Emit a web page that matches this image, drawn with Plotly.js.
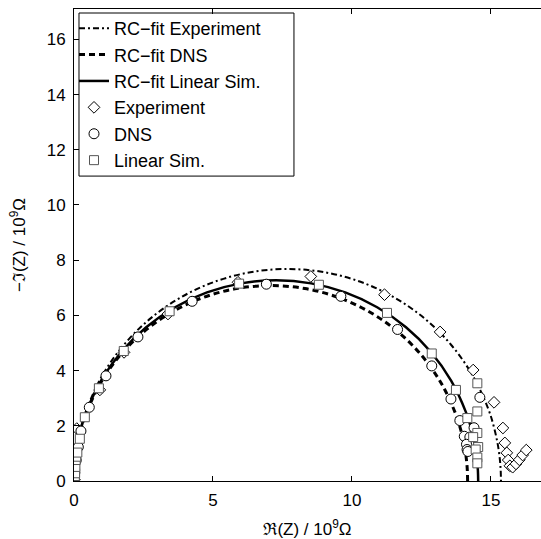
<!DOCTYPE html>
<html>
<head>
<meta charset="utf-8">
<script src="https://cdn.plot.ly/plotly-3.0.1.min.js"></script>
<style>html,body{margin:0;padding:0;background:#fff;}#plot{width:541px;height:539px;}</style>
</head>
<body>
<div id="plot"></div>
<script>
// RC-fit curves
const fitExpX = [0, 0.011, 0.042, 0.117, 0.262, 0.463, 1.029, 1.797, 2.743, 3.84, 5.053, 6.346, 7.68, 9.014, 10.307, 11.52, 12.617, 13.563, 14.331, 14.897, 15.098, 15.243, 15.318, 15.349, 15.36];
const fitExpY = [0, 0.402, 0.803, 1.334, 1.988, 2.627, 3.84, 4.937, 5.883, 6.651, 7.217, 7.563, 7.68, 7.563, 7.217, 6.651, 5.883, 4.937, 3.84, 2.627, 1.988, 1.334, 0.803, 0.402, 0];
const fitDnsX = [0, 0.0097, 0.0388, 0.1075, 0.2412, 0.427, 0.9485, 1.6564, 2.529, 3.54, 4.6585, 5.8506, 7.08, 8.3094, 9.5015, 10.62, 11.631, 12.5036, 13.2115, 13.733, 13.9188, 14.0525, 14.1212, 14.1503, 14.16];
const fitDnsY = [0, 0.371, 0.74, 1.229, 1.832, 2.422, 3.54, 4.551, 5.424, 6.132, 6.653, 6.973, 7.08, 6.973, 6.653, 6.132, 5.424, 4.551, 3.54, 2.422, 1.832, 1.229, 0.74, 0.371, 0];
const fitLinX = [0, 0.01, 0.04, 0.11, 0.248, 0.438, 0.974, 1.701, 2.597, 3.635, 4.784, 6.008, 7.27, 8.532, 9.756, 10.905, 11.943, 12.839, 13.566, 14.102, 14.292, 14.43, 14.5, 14.53, 14.54];
const fitLinY = [0, 0.381, 0.76, 1.262, 1.882, 2.486, 3.635, 4.673, 5.569, 6.296, 6.832, 7.16, 7.27, 7.16, 6.832, 6.296, 5.569, 4.673, 3.635, 2.486, 1.882, 1.262, 0.76, 0.381, 0];

// Data points
const expX = [0.02, 0.1, 0.93, 1.8, 3.38, 5.9, 8.52, 11.17, 13.17, 14.36, 15.11, 15.43, 15.5, 15.57, 15.62, 15.68, 15.78, 15.9, 16.02, 16.14, 16.27];
const expY = [0.05, 1.9, 3.3, 4.66, 6.05, 7.2, 7.41, 6.75, 5.4, 4.02, 2.85, 1.92, 1.38, 1.02, 0.76, 0.55, 0.5, 0.62, 0.77, 0.94, 1.12];
const dnsX = [0.03, 0.08, 0.155, 0.25, 0.55, 1.15, 2.3, 4.25, 6.92, 9.6, 11.64, 12.87, 13.56, 14.6, 13.88, 14.39, 14.04, 14.24, 14.12, 14.14, 14.17];
const dnsY = [0.3, 0.75, 1.23, 1.81, 2.67, 3.81, 5.22, 6.51, 7.13, 6.69, 5.49, 4.17, 2.97, 3.03, 2.19, 1.93, 1.62, 1.59, 1.33, 1.14, 1.07];
const linX = [0.01, 0.02, 0.03, 0.04, 0.05, 0.06, 0.08, 0.12, 0.21, 0.39, 0.895, 1.79, 3.44, 5.94, 8.81, 11.26, 12.87, 13.74, 14.51, 14.51, 14.15, 14.51, 14.36, 14.54, 14.45, 14.51, 14.51];
const linY = [0.0, 0.1, 0.18, 0.28, 0.51, 0.76, 0.88, 1.03, 1.53, 2.31, 3.36, 4.71, 6.15, 7.15, 7.11, 6.09, 4.62, 3.3, 3.54, 2.52, 2.28, 1.74, 1.59, 1.23, 1.14, 0.85, 0.64];

const xTicks = [0, 5, 10, 15];
const yTicks = [0, 2, 4, 6, 8, 10, 12, 14, 16];

const FONT = 'Liberation Sans, Arial, Helvetica, sans-serif';

const traces = [
  {x: fitExpX, y: fitExpY, mode: 'lines', name: 'RC\u2212fit Experiment', line: {color: '#000', width: 2, dash: '6px,3px,2px,3px', shape: 'spline'}},
  {x: fitDnsX, y: fitDnsY, mode: 'lines', name: 'RC\u2212fit DNS', line: {color: '#000', width: 3, dash: '6px,4px', shape: 'spline'}},
  {x: fitLinX, y: fitLinY, mode: 'lines', name: 'RC\u2212fit Linear Sim.', line: {color: '#000', width: 2.5, shape: 'spline'}},
  {x: expX, y: expY, mode: 'markers', name: 'Experiment', marker: {symbol: 'diamond', size: 9, color: '#fff', line: {width: 1, color: '#000'}}},
  {x: dnsX, y: dnsY, mode: 'markers', name: 'DNS', marker: {symbol: 'circle', size: 10, color: '#fff', line: {width: 1, color: '#000'}}},
  {x: linX, y: linY, mode: 'markers', name: 'Linear Sim.', marker: {symbol: 'square', size: 9, color: '#fff', line: {width: 1, color: '#555'}}}
];

const layout = {
  width: 541, height: 539,
  margin: {l: 74, r: 0, t: 9, b: 58},
  paper_bgcolor: '#fff', plot_bgcolor: '#fff',
  font: {family: FONT, size: 17, color: '#000'},
  showlegend: true,
  legend: {x: 0.0, y: 0.998, xanchor: 'left', yanchor: 'top', bgcolor: 'rgba(0,0,0,0)', borderwidth: 0, itemwidth: 30, font: {family: FONT, size: 18, color: '#000'}},
  shapes: [{type: 'rect', xref: 'paper', yref: 'paper', x0: 0.0107, x1: 0.471, y0: 0.646, y1: 0.9915, line: {color: '#000', width: 1}, fillcolor: '#fff', layer: 'below'}],
  xaxis: {
    range: [0, 16.8], tickvals: xTicks, ticktext: xTicks.map(String),
    ticks: 'inside', ticklen: 5, tickcolor: '#000', showline: true, linecolor: '#000', linewidth: 1,
    mirror: 'ticks', showgrid: false, zeroline: false, ticklabelstandoff: 4,
    title: {text: '\u211C(Z) / 10<sup>9</sup>\u03A9', font: {family: FONT, size: 17}, standoff: 14}
  },
  yaxis: {
    range: [0, 17.1], tickvals: yTicks, ticktext: yTicks.map(String),
    ticks: 'inside', ticklen: 5, tickcolor: '#000', showline: true, linecolor: '#000', linewidth: 1,
    mirror: false, showgrid: false, zeroline: false, ticklabelstandoff: 4,
    title: {text: '\u2212\u2111(Z) / 10<sup>9</sup>\u03A9', font: {family: FONT, size: 17}, standoff: 16}
  }
};

Plotly.newPlot('plot', traces, layout, {displayModeBar: false, staticPlot: true});
</script>
</body>
</html>
